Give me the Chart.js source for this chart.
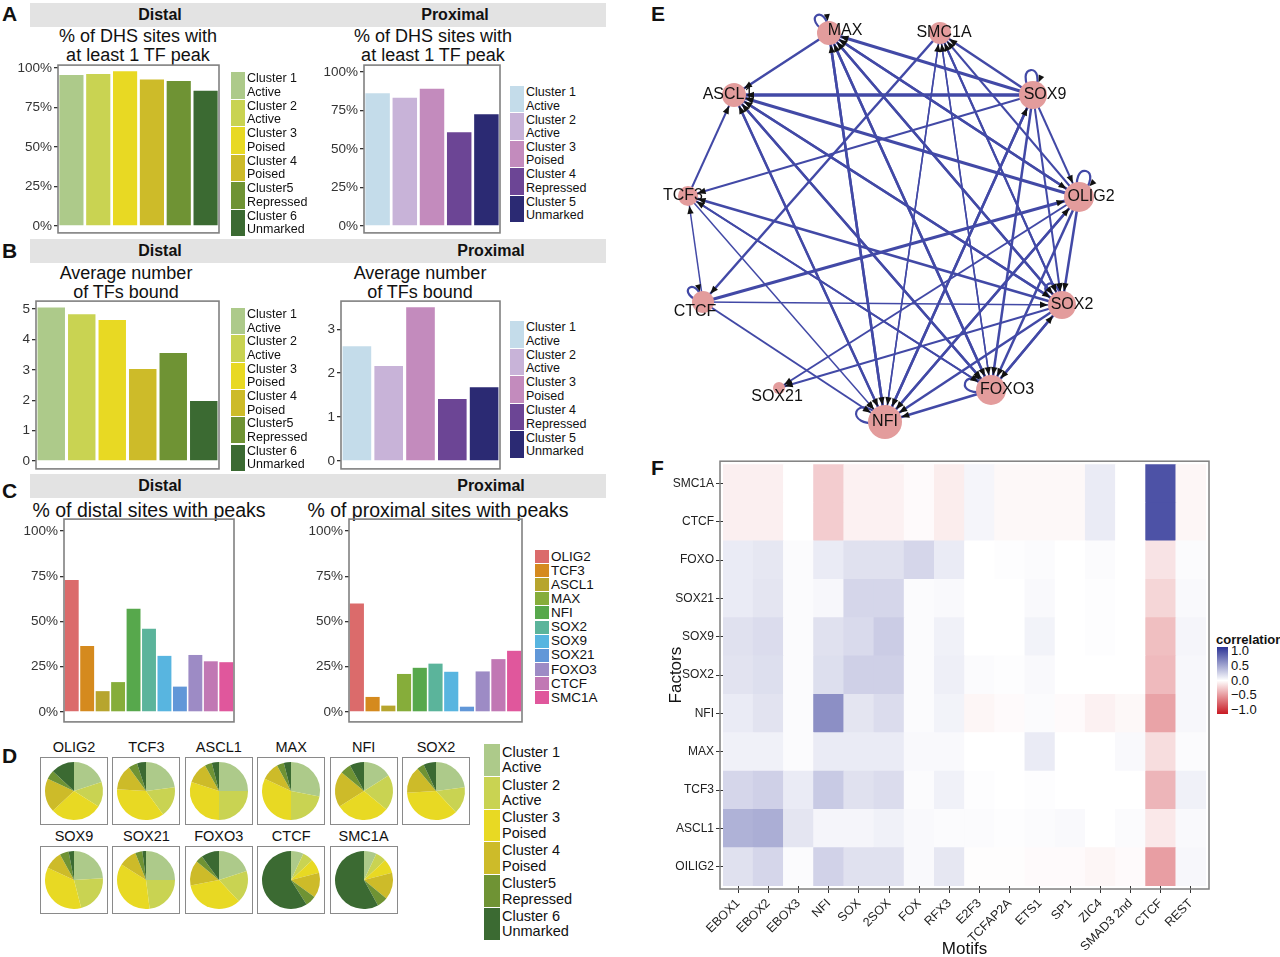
<!DOCTYPE html>
<html lang="en">
<head>
<meta charset="UTF-8">
<script src="https://cdn.jsdelivr.net/npm/chart.js"></script>
<style>
  body { margin: 0; background: #fff; }
  #page { position: relative; width: 1280px; height: 957px; overflow: hidden; font-family: 'Liberation Sans', Arial, sans-serif; color: #111; }
</style>
</head>
<body>
<div id="page"></div>
<script>
// ---- data: panels A-D ----
const distalClusters = ['Cluster 1|Active', 'Cluster 2|Active', 'Cluster 3|Poised', 'Cluster 4|Poised', 'Cluster5|Repressed', 'Cluster 6|Unmarked'];
const proximalClusters = ['Cluster 1|Active', 'Cluster 2|Active', 'Cluster 3|Poised', 'Cluster 4|Repressed', 'Cluster 5|Unmarked'];
const distalColors = ['#adca8a', '#c9d352', '#e8d923', '#cdbb29', '#6f9334', '#3b6a32'];
const proximalColors = ['#c4dcea', '#c8b3d8', '#c38bbd', '#6c4595', '#2b2a73'];

const tfPeakDistal = [95.6, 96.2, 98, 92.8, 91.8, 85.6];
const tfPeakProximal = [86.2, 83.3, 89.2, 60.8, 72.5];
const tfBoundDistal = [5.05, 4.83, 4.64, 3.03, 3.55, 1.97];
const tfBoundProximal = [2.61, 2.16, 3.5, 1.41, 1.68];

const factors = ['OLIG2', 'TCF3', 'ASCL1', 'MAX', 'NFI', 'SOX2', 'SOX9', 'SOX21', 'FOXO3', 'CTCF', 'SMC1A'];
const factorColors = ['#db6b6b', '#d58a1e', '#b7a52e', '#86ad3a', '#57a84c', '#5bb49b', '#58b5e0', '#6197d8', '#9d8bc5', '#c178b4', '#e0579c'];
const sitesDistal = [73, 36.5, 11.5, 16.5, 57, 46, 31, 14, 31.5, 28, 27.5];
const sitesProximal = [60, 8.3, 3.5, 21, 24.4, 26.7, 22.2, 2.9, 22.4, 29.2, 33.8];

const pctTicks = [0, 25, 50, 75, 100];
const boundTicksDistal = [0, 1, 2, 3, 4, 5];
const boundTicksProximal = [0, 1, 2, 3];

// cluster shares per factor (same order as factors)
const pieShares = [
  [0.20, 0.14, 0.29, 0.19, 0.05, 0.13],
  [0.23, 0.17, 0.36, 0.14, 0.05, 0.05],
  [0.25, 0.25, 0.30, 0.12, 0.04, 0.04],
  [0.28, 0.22, 0.32, 0.10, 0.04, 0.04],
  [0.16, 0.20, 0.30, 0.20, 0.06, 0.08],
  [0.23, 0.15, 0.36, 0.15, 0.04, 0.07],
  [0.24, 0.22, 0.36, 0.10, 0.05, 0.03],
  [0.25, 0.23, 0.36, 0.10, 0.04, 0.02],
  [0.20, 0.18, 0.34, 0.14, 0.04, 0.10],
  [0.07, 0.06, 0.08, 0.14, 0.06, 0.59],
  [0.07, 0.06, 0.08, 0.15, 0.06, 0.58]
];

// ---- data: panel E (network) ----
const nodeNames = ['MAX', 'SMC1A', 'SOX9', 'OLIG2', 'SOX2', 'FOXO3', 'NFI', 'SOX21', 'CTCF', 'TCF3', 'ASCL1'];
const nodeX = [-0.28, 0.275, 0.74, 0.97, 0.885, 0.53, 0.0, -0.53, -0.91, -0.985, -0.755];
const nodeY = [0.96, 0.96, 0.65, 0.14, -0.40, -0.825, -0.985, -0.815, -0.385, 0.145, 0.65];
const nodeSize = [12, 11, 14, 15, 14, 15, 17, 6, 11, 10, 12];
const labelDx = [16, 4, 12, 12, 10, 16, 0, -2, -8, -5, -6];
const labelDy = [-2, 0, 0, 0, 0, 0, 0, 9, 10, 0, 0];
const edges = [
  ['MAX', 'ASCL1', 2.5], ['SOX9', 'ASCL1', 3.5], ['OLIG2', 'ASCL1', 3], ['SOX2', 'ASCL1', 2.5],
  ['FOXO3', 'ASCL1', 2.5], ['NFI', 'ASCL1', 2.5], ['TCF3', 'ASCL1', 2], ['SOX9', 'MAX', 3],
  ['OLIG2', 'MAX', 2.5], ['SOX2', 'MAX', 2.5], ['FOXO3', 'MAX', 2.5], ['NFI', 'MAX', 2.5],
  ['SOX9', 'SMC1A', 2.5], ['OLIG2', 'SMC1A', 2], ['SOX2', 'SMC1A', 2], ['FOXO3', 'SMC1A', 1.5],
  ['NFI', 'SMC1A', 1.5], ['SMC1A', 'CTCF', 2.5], ['SOX9', 'TCF3', 2], ['SOX2', 'TCF3', 2.5],
  ['FOXO3', 'TCF3', 2], ['CTCF', 'TCF3', 1.5], ['CTCF', 'OLIG2', 3], ['CTCF', 'SOX2', 1.5],
  ['CTCF', 'NFI', 2], ['MAX', 'SOX2', 2.5], ['MAX', 'FOXO3', 2.5], ['MAX', 'NFI', 2.5],
  ['MAX', 'OLIG2', 2.5], ['ASCL1', 'FOXO3', 2.5], ['ASCL1', 'NFI', 2], ['ASCL1', 'SOX2', 2.5],
  ['SOX9', 'FOXO3', 2.5], ['SOX9', 'NFI', 2.5], ['SOX9', 'SOX2', 2], ['SOX9', 'OLIG2', 2],
  ['OLIG2', 'SOX2', 2.5], ['OLIG2', 'FOXO3', 2.5], ['OLIG2', 'NFI', 2.5], ['SOX2', 'FOXO3', 2.5],
  ['SOX2', 'NFI', 2.5], ['SOX2', 'SOX21', 2], ['FOXO3', 'NFI', 2.5], ['FOXO3', 'SOX2', 2.5],
  ['NFI', 'SOX9', 2.5], ['NFI', 'OLIG2', 2.5], ['SMC1A', 'FOXO3', 1.5], ['SMC1A', 'NFI', 1.5],
  ['SMC1A', 'SOX2', 2], ['OLIG2', 'SOX21', 2], ['TCF3', 'NFI', 1.5], ['TCF3', 'FOXO3', 2]
];
const selfLoops = [['MAX', -125], ['SOX9', -95], ['OLIG2', -75], ['SOX2', -125], ['NFI', -160], ['FOXO3', -165], ['CTCF', -135]];

// ---- data: panel F (heatmap), rows bottom to top ----
const motifs = ['EBOX1', 'EBOX2', 'EBOX3', 'NFI', 'SOX', '2SOX', 'FOX', 'RFX3', 'E2F3', 'TCFAP2A', 'ETS1', 'SP1', 'ZIC4', 'SMAD3 2nd', 'CTCF', 'REST'];
const heatFactors = ['OILIG2', 'ASCL1', 'TCF3', 'MAX', 'NFI', 'SOX2', 'SOX9', 'SOX21', 'FOXO', 'CTCF', 'SMC1A'];
const corr = [
  [0.15, 0.20, 0.02, 0.22, 0.15, 0.15, 0.03, 0.12, -0.01, -0.01, -0.02, -0.02, -0.04, -0.02, -0.42, 0.04],
  [0.38, 0.40, 0.13, 0.05, 0.05, 0.07, 0.03, 0.02, 0.02, 0.01, 0.02, 0.03, 0.00, 0.02, -0.10, 0.03],
  [0.20, 0.23, 0.10, 0.26, 0.15, 0.17, 0.02, 0.07, 0.01, 0.00, 0.01, 0.00, 0.00, 0.00, -0.32, 0.07],
  [0.07, 0.07, 0.02, 0.10, 0.10, 0.10, 0.03, 0.03, 0.00, 0.00, 0.10, 0.00, 0.00, 0.03, -0.15, 0.02],
  [0.10, 0.14, 0.02, 0.55, 0.13, 0.17, 0.02, 0.06, -0.04, -0.02, 0.02, -0.02, -0.06, -0.03, -0.40, 0.04],
  [0.14, 0.16, 0.02, 0.16, 0.23, 0.23, 0.02, 0.08, 0.02, 0.01, 0.03, 0.00, 0.00, 0.00, -0.30, 0.04],
  [0.15, 0.17, 0.02, 0.15, 0.18, 0.25, 0.02, 0.07, 0.00, 0.00, 0.06, 0.00, 0.01, 0.00, -0.28, 0.05],
  [0.10, 0.13, 0.02, 0.04, 0.20, 0.20, 0.02, 0.03, 0.00, 0.00, 0.03, 0.00, 0.01, 0.00, -0.18, 0.03],
  [0.10, 0.12, 0.02, 0.10, 0.15, 0.15, 0.20, 0.10, 0.00, 0.01, 0.02, 0.00, 0.02, 0.00, -0.12, 0.02],
  [-0.07, -0.07, 0.00, -0.22, -0.06, -0.06, -0.02, -0.08, 0.05, -0.03, -0.03, -0.03, 0.10, 0.00, 0.85, -0.04],
  [-0.07, -0.07, 0.00, -0.22, -0.06, -0.06, -0.02, -0.08, 0.05, -0.03, -0.03, -0.03, 0.10, 0.00, 0.85, -0.04]
];
const legendTicks = [1, 0.5, 0, -0.5, -1];

// ---- setup ----
Chart.defaults.font.family = "'Liberation Sans', Arial, sans-serif";
Chart.defaults.color = '#333';
Chart.defaults.animation = false;
Chart.defaults.plugins.legend.display = false;
Chart.defaults.plugins.tooltip.enabled = false;

// grey frame around the plot panel
Chart.register({
  id: 'panelBox',
  defaults: { color: null, width: 1.5, grow: 0 },
  afterDatasetsDraw(chart, args, o) {
    if (!o.color) return;
    const a = chart.chartArea, g = o.grow, c = chart.ctx;
    c.save();
    c.strokeStyle = o.color;
    c.lineWidth = o.width;
    c.strokeRect(a.left - g, a.top - g, a.right - a.left + 2 * g, a.bottom - a.top + 2 * g);
    c.restore();
  }
});

const page = document.getElementById('page');
function put(x, y, w, h, css, html) {
  const d = document.createElement('div');
  d.style.cssText = `position:absolute;left:${x}px;top:${y}px;` + (w != null ? `width:${w}px;` : '') + (h != null ? `height:${h}px;` : '') + (css || '');
  if (html != null) d.innerHTML = html;
  page.appendChild(d);
  return d;
}
function canvasIn(x, y, w, h, css) {
  const d = put(x, y, w, h, css);
  const c = document.createElement('canvas');
  d.appendChild(c);
  return c;
}
function letter(ch, x, y) {
  put(x, y, null, null, 'font-weight:bold;font-size:21px;line-height:21px;', ch);
}
function strip(y, xd, xp) {
  put(30, y, 576, 24, 'background:#e3e3e3;');
  [['Distal', xd], ['Proximal', xp]].forEach(([t, x]) =>
    put(x, y + 3, null, null, 'font-weight:bold;font-size:16px;line-height:18px;transform:translateX(-50%);white-space:nowrap;', t));
}
function title(lines, cx, y, size) {
  put(cx, y, null, null, `font-size:${size}px;line-height:${size + 1}px;text-align:center;transform:translateX(-50%);white-space:nowrap;`, lines.join('<br>'));
}
function legend(x, y, h, w, labels, colors, size) {
  labels.forEach((lab, i) => {
    put(x, y + i * h, w, h - 1, `background:${colors[i]};`);
    put(x + w + 2, y + i * h, 120, h, `display:flex;align-items:center;font-size:${size}px;line-height:${size + 1}px;white-space:nowrap;`, lab.split('|').join('<br>'));
  });
}

// bar panel; box = [left, top, right, bottom] of the plot frame
function barPanel(box, values, colors, yMin, yMax, ticks, fmt, axisW) {
  const pad = 10;
  const [L, T, R, B] = box;
  const cv = canvasIn(L - axisW, T - pad, R - L + axisW + 4, B - T + 2 * pad);
  new Chart(cv, {
    type: 'bar',
    data: { labels: values.map((_, i) => i), datasets: [{ data: values, backgroundColor: colors, barPercentage: 0.9, categoryPercentage: 1 }] },
    options: {
      responsive: true, maintainAspectRatio: false, events: [],
      layout: { padding: { top: pad, right: 4, bottom: pad, left: 0 }, autoPadding: false },
      plugins: { panelBox: { color: '#808080', width: 1.6 } },
      scales: {
        x: { display: false },
        y: {
          min: yMin, max: yMax,
          afterBuildTicks: ax => { ax.ticks = ticks.map(v => ({ value: v })); },
          afterFit: ax => { ax.width = axisW; },
          grid: { drawOnChartArea: false, drawTicks: true, tickLength: 4, color: '#333', lineWidth: 1.3 },
          border: { display: false },
          ticks: { callback: fmt, color: '#333', font: { size: 13.5 }, padding: 2 }
        }
      }
    }
  });
}

function piePanel(x, y, name, shares) {
  put(x, y - 18, 68, 16, 'text-align:center;font-size:14.5px;line-height:16px;', name);
  const cv = canvasIn(x, y, 68, 68, 'border:1.5px solid #8a8a8a;box-sizing:border-box;');
  new Chart(cv, {
    type: 'pie',
    data: { labels: distalClusters, datasets: [{ data: shares, backgroundColor: distalColors, borderWidth: 0 }] },
    options: { responsive: true, maintainAspectRatio: false, events: [], layout: { padding: 4 } }
  });
}

function corrColor(v) {
  const hi = [45, 52, 150], lo = [200, 25, 35];
  const t = Math.min(1, Math.abs(v));
  const c = v >= 0 ? hi : lo;
  return 'rgb(' + c.map(k => Math.round(255 + (k - 255) * t)).join(',') + ')';
}

const pct = v => v + '%';
const num = v => String(v);

// ---- A ----
letter('A', 2, 3);
strip(3, 160, 455);
title(['% of DHS sites with', 'at least 1 TF peak'], 138, 27, 18);
title(['% of DHS sites with', 'at least 1 TF peak'], 433, 27, 18);
barPanel([58, 65, 219, 233], tfPeakDistal, distalColors, -4.4, 101.9, pctTicks, pct, 40);
barPanel([364, 65, 500, 233], tfPeakProximal, proximalColors, -4.5, 104.5, pctTicks, pct, 40);
legend(231, 72, 27.5, 14, distalClusters, distalColors, 12.5);
legend(510, 86, 27.4, 14, proximalClusters, proximalColors, 12.5);

// ---- B ----
letter('B', 2, 240);
strip(239, 160, 491);
title(['Average number', 'of TFs bound'], 126, 264, 18);
title(['Average number', 'of TFs bound'], 420, 264, 18);
barPanel([36, 301, 219, 469], tfBoundDistal, distalColors, -0.26, 5.26, boundTicksDistal, num, 20);
barPanel([341, 301, 500, 469], tfBoundProximal, proximalColors, -0.18, 3.64, boundTicksProximal, num, 20);
legend(231, 308, 27.3, 14, distalClusters, distalColors, 12.5);
legend(510, 321, 27.6, 14, proximalClusters, proximalColors, 12.5);

// ---- C ----
letter('C', 2, 480);
strip(474, 160, 491);
title(['% of distal sites with peaks'], 149, 500, 19.5);
title(['% of proximal sites with peaks'], 438, 500, 19.5);
barPanel([64, 519, 234, 722], sitesDistal, factorColors, -5.5, 106.6, pctTicks, pct, 42);
barPanel([349, 519, 522, 722], sitesProximal, factorColors, -5.5, 106.6, pctTicks, pct, 42);
legend(535, 550, 14.1, 14, factors, factorColors, 13.5);

// ---- D ----
letter('D', 2, 745);
factors.forEach((f, i) => {
  const col = i < 6 ? i : i - 6;
  const row = i < 6 ? 0 : 1;
  piePanel(40 + col * 72.4, row ? 846 : 757, f, pieShares[i]);
});
legend(484, 744, 32.8, 16, distalClusters, distalColors, 14.5);

// ---- E ----
letter('E', 651, 3);
const ni = n => nodeNames.indexOf(n);
const nodePts = nodeNames.map((n, i) => ({ x: nodeX[i], y: nodeY[i] }));

function arrowHead(ctx, x, y, ang, len, half) {
  const c = Math.cos(ang), s = Math.sin(ang);
  ctx.beginPath();
  ctx.moveTo(x, y);
  ctx.lineTo(x - len * c + half * s, y - len * s - half * c);
  ctx.lineTo(x - len * c - half * s, y - len * s + half * c);
  ctx.closePath();
  ctx.fill();
}

const networkPlugin = {
  id: 'network',
  beforeDatasetsDraw(chart) {
    const ctx = chart.ctx, xs = chart.scales.x, ys = chart.scales.y;
    ctx.save();
    ctx.strokeStyle = '#4249a6';
    ctx.lineWidth = 2.2;
    selfLoops.forEach(([n, deg]) => {
      const i = ni(n), th = deg * Math.PI / 180, d = nodeSize[i] * 2.8, dl = 0.55;
      const cx = xs.getPixelForValue(nodeX[i]), cy = ys.getPixelForValue(nodeY[i]);
      ctx.beginPath();
      ctx.moveTo(cx, cy);
      ctx.bezierCurveTo(cx + d * Math.cos(th - dl), cy + d * Math.sin(th - dl), cx + d * Math.cos(th + dl), cy + d * Math.sin(th + dl), cx, cy);
      ctx.stroke();
    });
    ctx.restore();
  },
  afterDatasetsDraw(chart) {
    const ctx = chart.ctx, xs = chart.scales.x, ys = chart.scales.y;
    const P = i => ({ x: xs.getPixelForValue(nodeX[i]), y: ys.getPixelForValue(nodeY[i]) });
    ctx.save();
    ctx.fillStyle = '#111';
    edges.forEach(([a, b]) => {
      const p = P(ni(a)), q = P(ni(b)), r = nodeSize[ni(b)];
      const ang = Math.atan2(q.y - p.y, q.x - p.x);
      arrowHead(ctx, q.x - Math.cos(ang) * r, q.y - Math.sin(ang) * r, ang, 8, 3.2);
    });
    selfLoops.forEach(([n, deg]) => {
      const i = ni(n), th = deg * Math.PI / 180 + 0.5, q = P(i), r = nodeSize[i];
      arrowHead(ctx, q.x + Math.cos(th) * r, q.y + Math.sin(th) * r, th + Math.PI, 7, 3);
    });
    ctx.font = "16px 'Liberation Sans', Arial, sans-serif";
    ctx.textAlign = 'center';
    ctx.textBaseline = 'middle';
    nodeNames.forEach((n, i) => {
      const q = P(i);
      ctx.fillText(n, q.x + labelDx[i], q.y + labelDy[i]);
    });
    ctx.restore();
  }
};

const eCanvas = canvasIn(640, 0, 520, 445);
new Chart(eCanvas, {
  type: 'scatter',
  data: {
    datasets: [
      { data: nodePts, pointRadius: nodeSize, pointHoverRadius: nodeSize, backgroundColor: '#e39c9c', borderWidth: 0, order: 0 },
      ...edges.map(([a, b, w]) => ({
        data: [nodePts[ni(a)], nodePts[ni(b)]], showLine: true, borderColor: '#4249a6', borderWidth: w, pointRadius: 0, order: 1
      }))
    ]
  },
  options: {
    responsive: true, maintainAspectRatio: false, events: [],
    layout: { padding: 0, autoPadding: false },
    scales: { x: { display: false, min: -1.225, max: 1.375 }, y: { display: false, min: -1.1, max: 1.125 } }
  },
  plugins: [networkPlugin]
});

// ---- F ----
letter('F', 651, 457);
const fCanvas = canvasIn(666, 455, 549, 505);
new Chart(fCanvas, {
  type: 'bar',
  data: {
    labels: motifs,
    datasets: heatFactors.map((f, r) => ({
      label: f, data: motifs.map(() => 1), backgroundColor: corr[r].map(corrColor),
      barPercentage: 1, categoryPercentage: 1, borderWidth: 0
    }))
  },
  options: {
    responsive: true, maintainAspectRatio: false, events: [],
    layout: { padding: { top: 8, right: 9, bottom: 0, left: 0 } },
    plugins: { panelBox: { color: '#7f7f7f', width: 1.5, grow: 3 } },
    scales: {
      x: {
        stacked: true,
        afterFit: ax => { ax.height = 74; },
        grid: { drawOnChartArea: false, offset: false, tickLength: 7, color: '#333' },
        border: { display: false },
        ticks: { autoSkip: false, minRotation: 45, maxRotation: 45, color: '#222', font: { size: 12.5 } },
        title: { display: true, text: 'Motifs', font: { size: 17 }, color: '#111', padding: 0 }
      },
      y: {
        stacked: true, min: 0, max: 11,
        afterBuildTicks: ax => { ax.ticks = heatFactors.map((_, i) => ({ value: i + 0.5 })); },
        afterFit: ax => { ax.width = 57; },
        grid: { drawOnChartArea: false, tickLength: 7, color: '#333' },
        border: { display: false },
        ticks: { callback: v => heatFactors[v - 0.5], color: '#222', font: { size: 12 }, padding: 2 },
        title: { display: true, text: 'Factors', font: { size: 17 }, color: '#111', padding: 0 }
      }
    }
  }
});

// correlation legend
put(1216, 633, null, null, 'font-weight:bold;font-size:13px;line-height:14px;white-space:nowrap;', 'correlation');
const legTop = 651, legH = 59;
put(1217, legTop - 4, 11, legH + 8, `background:linear-gradient(to bottom, ${legendTicks.map(corrColor).join(',')});`);
legendTicks.forEach(v => put(1231, legTop + (1 - v) / 2 * legH - 8, null, null, 'font-size:13px;line-height:16px;white-space:nowrap;', v.toFixed(1).replace('-', '\u2212')));
</script>
</body>
</html>
